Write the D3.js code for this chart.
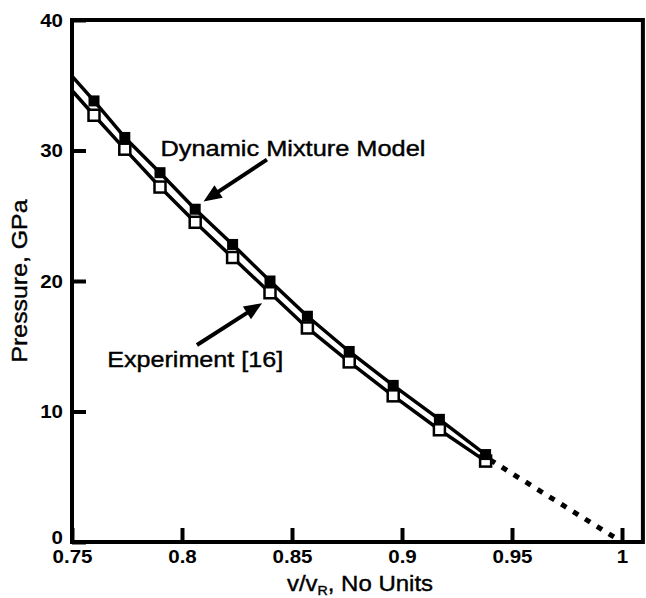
<!DOCTYPE html>
<html>
<head>
<meta charset="utf-8">
<script src="https://cdn.jsdelivr.net/npm/d3@7"></script>
<style>
  html, body { margin: 0; padding: 0; background: #fff; }
  svg { display: block; }
  text { font-family: "Liberation Sans", Arial, sans-serif; fill: #000; }
</style>
</head>
<body>
<svg id="chart" width="646" height="598"></svg>
<script>
// ---- data ----
const vRatio     = [0.760, 0.774, 0.790, 0.806, 0.823, 0.840, 0.857, 0.876, 0.896, 0.917, 0.938];
const modelP     = [33.8, 31.0, 28.3, 25.5, 22.8, 20.0, 17.3, 14.6, 12.0, 9.4, 6.7];
const experimentP= [32.7, 30.1, 27.2, 24.5, 21.8, 19.1, 16.4, 13.8, 11.2, 8.6, 6.2];
const lineStartV = 0.75;
const modelStartP = 35.7;
const experimentStartP = 34.6;
const extrapV = [0.940, 1.0];
const extrapP = [6.3, 0.0];
const xTicks = [0.75, 0.8, 0.85, 0.9, 0.95, 1];
const xTickLabels = ["0.75", "0.8", "0.85", "0.9", "0.95", "1"];
const yTicks = [0, 10, 20, 30, 40];
const yTickLabels = ["0", "10", "20", "30", "40"];
const xDomain = [0.75, 1.0095];
const yDomain = [0, 40];
const labelModel = "Dynamic Mixture Model";
const labelExperiment = "Experiment [16]";
// annotation anchor points (data units): [tailX, tailY, tipX, tipY]
const arrowModel = [0.8386, 29.3, 0.8098, 26.1];
const arrowExperiment = [0.8068, 15.1, 0.8364, 18.3];
const labelModelPos = [0.7902, 29.6];
const labelExperimentPos = [0.7660, 13.4];

// ---- layout ----
const svg = d3.select("#chart");
const mLeft = 72, mTop = 20, mBottom = 542;
const x = d3.scaleLinear().domain([0.75, 1.0]).range([mLeft, 622]);
const mRight = x(xDomain[1]);
const y = d3.scaleLinear().domain(yDomain).range([mBottom, mTop]);

function stretch(sel, f) {
  sel.each(function () {
    const w = this.getComputedTextLength();
    d3.select(this).attr("textLength", w * f).attr("lengthAdjust", "spacingAndGlyphs");
  });
}
function fitTo(sel, w) {
  sel.attr("textLength", w).attr("lengthAdjust", "spacingAndGlyphs");
}

// frame
svg.append("rect")
  .attr("x", mLeft).attr("y", mTop)
  .attr("width", mRight - mLeft).attr("height", mBottom - mTop)
  .attr("fill", "none").attr("stroke", "#000").attr("stroke-width", 4);

// x axis ticks (inward)
const xAxis = d3.axisBottom(x).tickValues(xTicks)
  .tickSizeInner(-14).tickSizeOuter(0)
  .tickFormat((d, i) => xTickLabels[i]);
const gx = svg.append("g").attr("transform", `translate(0,${mBottom})`).call(xAxis);
gx.select(".domain").remove();
gx.selectAll(".tick line").attr("stroke", "#000").attr("stroke-width", 4);
gx.selectAll(".tick text")
  .attr("y", 21).attr("dy", 0)
  .style("font-family", "'Liberation Sans', Arial, sans-serif")
  .style("font-size", "18px").style("font-weight", "bold").attr("fill", "#000")
  .call(stretch, 1.14);

// y axis ticks (inward)
const yAxis = d3.axisLeft(y).tickValues(yTicks)
  .tickSizeInner(-14).tickSizeOuter(0)
  .tickFormat((d, i) => yTickLabels[i]);
const gy = svg.append("g").attr("transform", `translate(${mLeft},0)`).call(yAxis);
gy.select(".domain").remove();
gy.selectAll(".tick line").attr("stroke", "#000").attr("stroke-width", 4);
gy.selectAll(".tick text")
  .attr("x", -9).attr("dy", "0.35em")
  .style("font-family", "'Liberation Sans', Arial, sans-serif")
  .style("font-size", "18px").style("font-weight", "bold").attr("fill", "#000")
  .call(stretch, 1.14);
gy.selectAll(".tick").filter(d => d === 0).select("text").attr("dy", "0.1em");

// axis titles
const xt = svg.append("text")
  .attr("x", 360).attr("y", 591)
  .attr("text-anchor", "middle")
  .attr("stroke", "#000").attr("stroke-width", 0.4)
  .style("font-size", "22px");
xt.append("tspan").text("v/v");
xt.append("tspan").text("R").style("font-size", "13px").attr("dy", 4);
xt.append("tspan").text(", No Units").attr("dy", -4);
xt.call(stretch, 1.09);

svg.append("text")
  .attr("transform", "translate(27,281) rotate(-90)")
  .attr("text-anchor", "middle")
  .attr("stroke", "#000").attr("stroke-width", 0.4)
  .style("font-size", "22px")
  .text("Pressure, GPa")
  .call(fitTo, 163);

// lines
const line = d3.line().x(d => x(d[0])).y(d => y(d[1]));
const modelPts = [[lineStartV, modelStartP]].concat(vRatio.map((v, i) => [v, modelP[i]]));
const expPts = [[lineStartV, experimentStartP]].concat(vRatio.map((v, i) => [v, experimentP[i]]));

svg.append("path").datum(expPts).attr("d", line)
  .attr("fill", "none").attr("stroke", "#000").attr("stroke-width", 3.5)
  .attr("stroke-linejoin", "round");
svg.append("path").datum(modelPts).attr("d", line)
  .attr("fill", "none").attr("stroke", "#000").attr("stroke-width", 3.5)
  .attr("stroke-linejoin", "round");

// extrapolation (dotted)
svg.append("path").datum(extrapV.map((v, i) => [v, extrapP[i]])).attr("d", line)
  .attr("fill", "none").attr("stroke", "#000").attr("stroke-width", 5)
  .attr("stroke-dasharray", "6,8");

// markers
const ms = 11;
svg.append("g").selectAll("rect").data(vRatio.map((v, i) => [v, experimentP[i]]))
  .join("rect")
  .attr("x", d => x(d[0]) - ms / 2).attr("y", d => y(d[1]) - ms / 2)
  .attr("width", ms).attr("height", ms)
  .attr("fill", "#fff").attr("stroke", "#000").attr("stroke-width", 2.5);
svg.append("g").selectAll("rect").data(vRatio.map((v, i) => [v, modelP[i]]))
  .join("rect")
  .attr("x", d => x(d[0]) - ms / 2).attr("y", d => y(d[1]) - ms / 2)
  .attr("width", ms).attr("height", ms)
  .attr("fill", "#000");

// arrows
function arrow(a) {
  const x0 = x(a[0]), y0 = y(a[1]), x1 = x(a[2]), y1 = y(a[3]);
  const dx = x1 - x0, dy = y1 - y0, L = Math.hypot(dx, dy);
  const ux = dx / L, uy = dy / L, px = -uy, py = ux;
  const hl = 18, hw = 7.5;
  const bx = x1 - ux * hl, by = y1 - uy * hl;
  svg.append("line")
    .attr("x1", x0).attr("y1", y0).attr("x2", bx + ux * 2).attr("y2", by + uy * 2)
    .attr("stroke", "#000").attr("stroke-width", 4);
  svg.append("polygon")
    .attr("points", [[x1, y1], [bx + px * hw, by + py * hw], [bx - px * hw, by - py * hw]].map(p => p.join(",")).join(" "))
    .attr("fill", "#000");
}
arrow(arrowModel);
arrow(arrowExperiment);

// annotation labels
svg.append("text")
  .attr("x", x(labelModelPos[0])).attr("y", y(labelModelPos[1]))
  .attr("stroke", "#000").attr("stroke-width", 0.4)
  .style("font-size", "22px")
  .text(labelModel)
  .call(fitTo, 265);
svg.append("text")
  .attr("x", x(labelExperimentPos[0])).attr("y", y(labelExperimentPos[1]))
  .attr("stroke", "#000").attr("stroke-width", 0.4)
  .style("font-size", "22px")
  .text(labelExperiment)
  .call(fitTo, 176);
</script>
</body>
</html>
